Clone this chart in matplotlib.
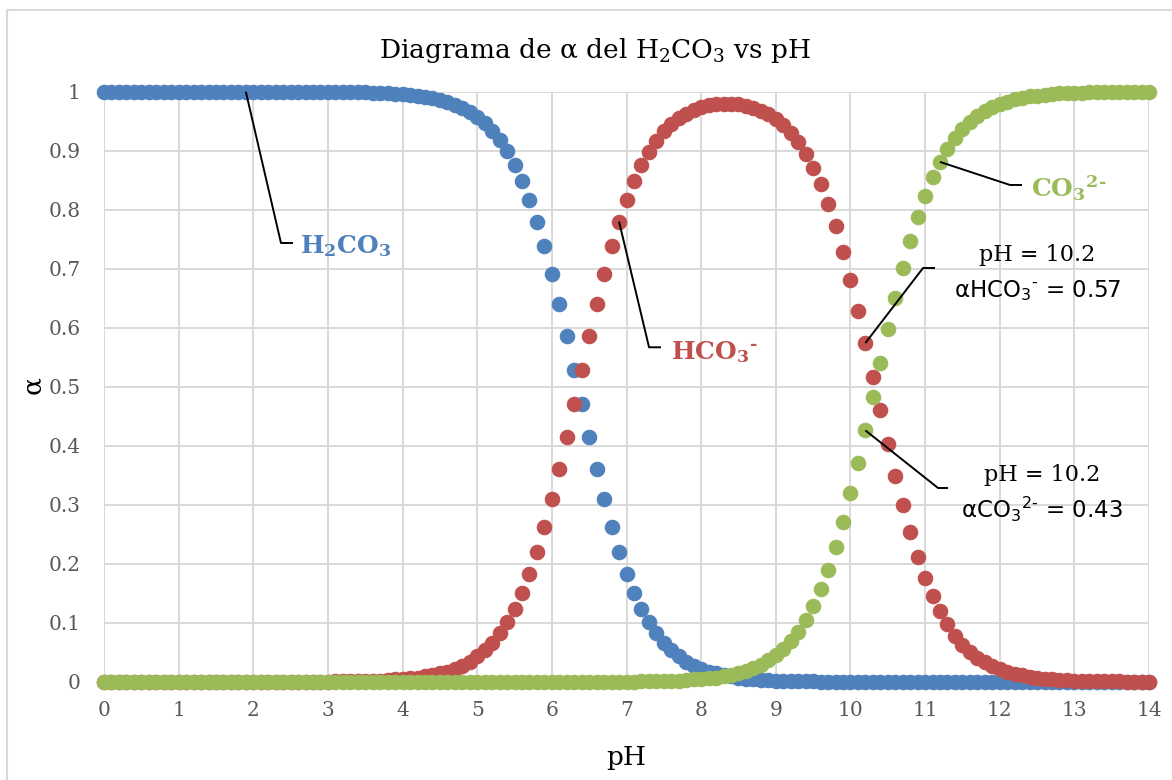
import matplotlib
matplotlib.use('Agg')
from matplotlib import pyplot as plt
from matplotlib.lines import Line2D

# pH values (x)
ph = [
    0.0, 0.1, 0.2, 0.3, 0.4, 0.5, 0.6, 0.7, 0.8, 0.9,
    1.0, 1.1, 1.2, 1.3, 1.4, 1.5, 1.6, 1.7, 1.8, 1.9,
    2.0, 2.1, 2.2, 2.3, 2.4, 2.5, 2.6, 2.7, 2.8, 2.9,
    3.0, 3.1, 3.2, 3.3, 3.4, 3.5, 3.6, 3.7, 3.8, 3.9,
    4.0, 4.1, 4.2, 4.3, 4.4, 4.5, 4.6, 4.7, 4.8, 4.9,
    5.0, 5.1, 5.2, 5.3, 5.4, 5.5, 5.6, 5.7, 5.8, 5.9,
    6.0, 6.1, 6.2, 6.3, 6.4, 6.5, 6.6, 6.7, 6.8, 6.9,
    7.0, 7.1, 7.2, 7.3, 7.4, 7.5, 7.6, 7.7, 7.8, 7.9,
    8.0, 8.1, 8.2, 8.3, 8.4, 8.5, 8.6, 8.7, 8.8, 8.9,
    9.0, 9.1, 9.2, 9.3, 9.4, 9.5, 9.6, 9.7, 9.8, 9.9,
    10.0, 10.1, 10.2, 10.3, 10.4, 10.5, 10.6, 10.7, 10.8, 10.9,
    11.0, 11.1, 11.2, 11.3, 11.4, 11.5, 11.6, 11.7, 11.8, 11.9,
    12.0, 12.1, 12.2, 12.3, 12.4, 12.5, 12.6, 12.7, 12.8, 12.9,
    13.0, 13.1, 13.2, 13.3, 13.4, 13.5, 13.6, 13.7, 13.8, 13.9,
    14.0,
]

alpha_h2co3 = [
    1.000, 1.000, 1.000, 1.000, 1.000, 1.000, 1.000, 1.000, 1.000, 1.000,
    1.000, 1.000, 1.000, 1.000, 1.000, 1.000, 1.000, 1.000, 1.000, 1.000,
    1.000, 1.000, 1.000, 1.000, 1.000, 1.000, 1.000, 1.000, 1.000, 1.000,
    1.000, 0.999, 0.999, 0.999, 0.999, 0.999, 0.998, 0.998, 0.997, 0.996,
    0.996, 0.994, 0.993, 0.991, 0.989, 0.986, 0.983, 0.978, 0.973, 0.966,
    0.957, 0.947, 0.934, 0.918, 0.899, 0.876, 0.849, 0.817, 0.780, 0.738,
    0.691, 0.640, 0.586, 0.529, 0.471, 0.414, 0.360, 0.309, 0.262, 0.220,
    0.183, 0.151, 0.124, 0.101, 0.082, 0.066, 0.053, 0.043, 0.034, 0.027,
    0.022, 0.017, 0.014, 0.011, 0.009, 0.007, 0.005, 0.004, 0.003, 0.003,
    0.002, 0.002, 0.001, 0.001, 0.001, 0.001, 0.000, 0.000, 0.000, 0.000,
    0.000, 0.000, 0.000, 0.000, 0.000, 0.000, 0.000, 0.000, 0.000, 0.000,
    0.000, 0.000, 0.000, 0.000, 0.000, 0.000, 0.000, 0.000, 0.000, 0.000,
    0.000, 0.000, 0.000, 0.000, 0.000, 0.000, 0.000, 0.000, 0.000, 0.000,
    0.000, 0.000, 0.000, 0.000, 0.000, 0.000, 0.000, 0.000, 0.000, 0.000,
    0.000,
]

alpha_hco3 = [
    0.000, 0.000, 0.000, 0.000, 0.000, 0.000, 0.000, 0.000, 0.000, 0.000,
    0.000, 0.000, 0.000, 0.000, 0.000, 0.000, 0.000, 0.000, 0.000, 0.000,
    0.000, 0.000, 0.000, 0.000, 0.000, 0.000, 0.000, 0.000, 0.000, 0.000,
    0.000, 0.001, 0.001, 0.001, 0.001, 0.001, 0.002, 0.002, 0.003, 0.004,
    0.004, 0.006, 0.007, 0.009, 0.011, 0.014, 0.017, 0.022, 0.027, 0.034,
    0.043, 0.053, 0.066, 0.082, 0.101, 0.124, 0.151, 0.183, 0.220, 0.262,
    0.309, 0.360, 0.414, 0.471, 0.529, 0.586, 0.640, 0.691, 0.738, 0.780,
    0.817, 0.849, 0.876, 0.898, 0.917, 0.933, 0.945, 0.955, 0.963, 0.969,
    0.974, 0.977, 0.979, 0.980, 0.980, 0.979, 0.976, 0.973, 0.968, 0.962,
    0.953, 0.943, 0.930, 0.914, 0.894, 0.871, 0.843, 0.810, 0.772, 0.729,
    0.681, 0.629, 0.574, 0.517, 0.460, 0.403, 0.349, 0.299, 0.253, 0.212,
    0.176, 0.145, 0.119, 0.097, 0.078, 0.063, 0.051, 0.041, 0.033, 0.026,
    0.021, 0.017, 0.013, 0.011, 0.008, 0.007, 0.005, 0.004, 0.003, 0.003,
    0.002, 0.002, 0.001, 0.001, 0.001, 0.001, 0.001, 0.000, 0.000, 0.000,
    0.000,
]

alpha_co3 = [
    0.000, 0.000, 0.000, 0.000, 0.000, 0.000, 0.000, 0.000, 0.000, 0.000,
    0.000, 0.000, 0.000, 0.000, 0.000, 0.000, 0.000, 0.000, 0.000, 0.000,
    0.000, 0.000, 0.000, 0.000, 0.000, 0.000, 0.000, 0.000, 0.000, 0.000,
    0.000, 0.000, 0.000, 0.000, 0.000, 0.000, 0.000, 0.000, 0.000, 0.000,
    0.000, 0.000, 0.000, 0.000, 0.000, 0.000, 0.000, 0.000, 0.000, 0.000,
    0.000, 0.000, 0.000, 0.000, 0.000, 0.000, 0.000, 0.000, 0.000, 0.000,
    0.000, 0.000, 0.000, 0.000, 0.000, 0.000, 0.000, 0.000, 0.000, 0.000,
    0.000, 0.000, 0.001, 0.001, 0.001, 0.001, 0.002, 0.002, 0.003, 0.004,
    0.005, 0.006, 0.007, 0.009, 0.012, 0.015, 0.018, 0.023, 0.029, 0.036,
    0.045, 0.056, 0.069, 0.085, 0.105, 0.129, 0.157, 0.190, 0.228, 0.271,
    0.319, 0.371, 0.426, 0.483, 0.540, 0.597, 0.651, 0.701, 0.747, 0.788,
    0.824, 0.855, 0.881, 0.903, 0.922, 0.937, 0.949, 0.959, 0.967, 0.974,
    0.979, 0.983, 0.987, 0.989, 0.992, 0.993, 0.995, 0.996, 0.997, 0.997,
    0.998, 0.998, 0.999, 0.999, 0.999, 0.999, 0.999, 1.000, 1.000, 1.000,
    1.000,
]

x_ticks = [0, 1, 2, 3, 4, 5, 6, 7, 8, 9, 10, 11, 12, 13, 14]
y_ticks = [0, 0.1, 0.2, 0.3, 0.4, 0.5, 0.6, 0.7, 0.8, 0.9, 1]
y_tick_labels = ['0', '0.1', '0.2', '0.3', '0.4', '0.5', '0.6', '0.7', '0.8', '0.9', '1']

BLUE = '#4F81BD'
RED = '#C0504D'
GREEN = '#9BBB59'
GRID = '#d9d9d9'
HYPH = '\u2010'  # small hyphen for the charges


def leader(ax, x, y, ex, ey, tx):
    # excel style leader: point -> elbow -> short flat end
    ax.plot([x, ex, tx], [y, ey, ey], color='black', lw=1.4,
            clip_on=False, zorder=5, solid_capstyle='butt')


def main():
    plt.rcParams['font.family'] = 'DejaVu Serif'
    plt.rcParams['mathtext.fontset'] = 'dejavuserif'

    W, H = 1172, 780
    fig = plt.figure(figsize=(W / 100, H / 100), dpi=100)
    ax = fig.add_axes([104 / W, 1 - 681.7 / H, 1045 / W, 590 / H])

    # chart area border (top and left, rest is cut off)
    fig.add_artist(Line2D([7 / W, 7 / W, 1.05], [-0.05, 1 - 10 / H, 1 - 10 / H],
                          transform=fig.transFigure, color=GRID, lw=1.5))

    for vals, col in [(alpha_h2co3, BLUE), (alpha_hco3, RED), (alpha_co3, GREEN)]:
        ax.plot(ph, vals, linestyle='none', marker='o', ms=10.4, mew=0.8,
                color=col, mec=col, clip_on=False, zorder=3)

    ax.set_xlim(0, 14)
    ax.set_ylim(0, 1)
    ax.set_xticks(x_ticks)
    ax.set_yticks(y_ticks)
    ax.set_yticklabels(y_tick_labels)
    ax.grid(True, color=GRID, lw=1.4)
    ax.set_axisbelow(True)
    for s in ax.spines.values():
        s.set_visible(False)
    ax.tick_params(axis='both', length=0, labelsize=14.5, labelcolor='#595959')
    ax.tick_params(axis='y', pad=17)
    ax.tick_params(axis='x', pad=14)

    fig.text(0.508, 1 - 58 / H, 'Diagrama de α del H$_2$CO$_3$ vs pH',
             ha='center', va='baseline', fontsize=19, color='black')
    fig.text(626 / W, 1 - 765 / H, 'pH', ha='center', va='baseline',
             fontsize=19, color='black')
    fig.text(33 / W, 1 - 385 / H, 'α', rotation=90, ha='center', va='center',
             fontsize=19, color='black')

    # series labels
    i = ph.index(1.9)
    leader(ax, ph[i], alpha_h2co3[i], 2.371, 0.7436, 2.532)
    ax.text(2.626, 0.7266, r'$\mathbf{H_2CO_3}$', color=BLUE, fontsize=18,
            va='baseline', ha='left')

    i = ph.index(6.9)
    leader(ax, ph[i], alpha_hco3[i], 7.302, 0.5668, 7.462)
    ax.text(7.596, 0.547, r'$\mathbf{HCO_3}^{\mathbf{' + HYPH + '}}$', color=RED,
            fontsize=18, va='baseline', ha='left')

    i = ph.index(11.2)
    leader(ax, ph[i], alpha_co3[i], 12.138, 0.8419, 12.299)
    ax.text(12.42, 0.8215, r'$\mathbf{CO_3}^{\mathbf{2' + HYPH + '}}$', color=GREEN,
            fontsize=18, va='baseline', ha='left')

    # point callouts at pH 10.2
    i = ph.index(10.2)
    leader(ax, ph[i], alpha_hco3[i], 10.973, 0.7012, 11.133)
    ax.text(12.5, 0.7131, 'pH = %.1f' % ph[i], ha='center', va='baseline', fontsize=16)
    ax.text(12.5, 0.652, 'αHCO$_3$$^{' + HYPH + '}$ = %.2f' % alpha_hco3[i],
            ha='center', va='baseline', fontsize=16.5, family='DejaVu Sans',
            math_fontfamily='dejavusans')

    leader(ax, ph[i], alpha_co3[i], 11.174, 0.3283, 11.308)
    ax.text(12.567, 0.3402, 'pH = %.1f' % ph[i], ha='center', va='baseline', fontsize=16)
    ax.text(12.567, 0.2775, 'αCO$_3$$^{2' + HYPH + '}$ = %.2f' % alpha_co3[i],
            ha='center', va='baseline', fontsize=16.5, family='DejaVu Sans',
            math_fontfamily='dejavusans')

    fig.savefig('out.png', dpi=100)


if __name__ == "__main__":
    main()
